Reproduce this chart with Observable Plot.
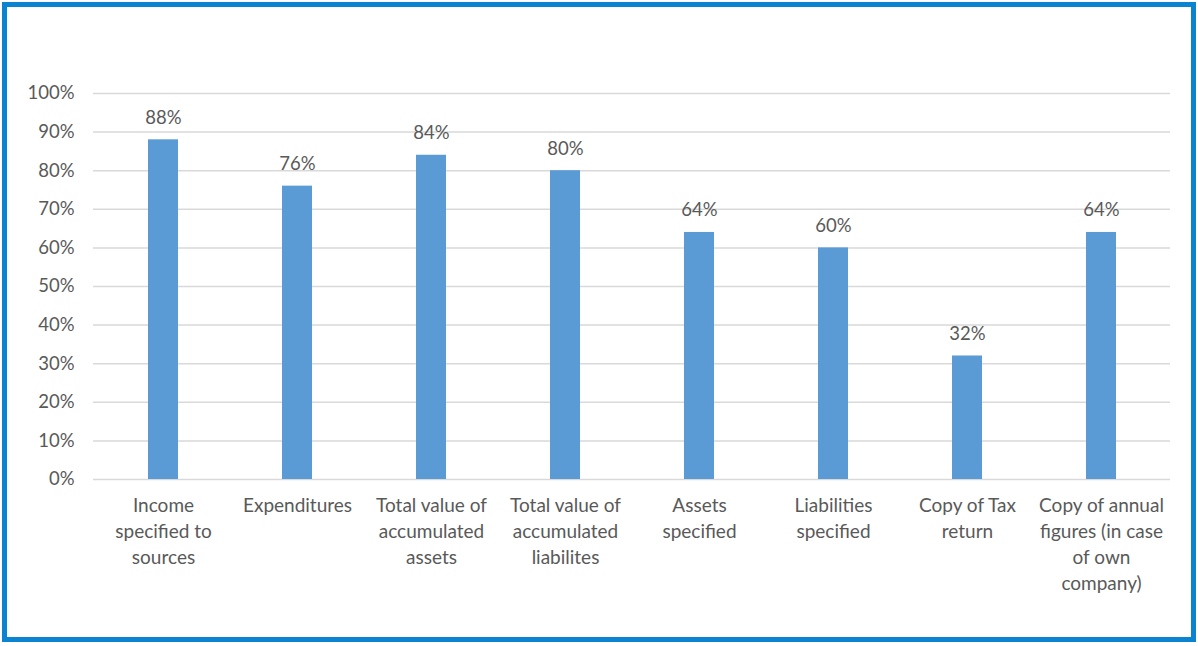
<!DOCTYPE html>
<html>
<head>
<meta charset="utf-8">
<script src="https://cdn.jsdelivr.net/npm/d3@7"></script>
<script src="https://cdn.jsdelivr.net/npm/@observablehq/plot@0.6"></script>
<style>
  html, body { margin: 0; padding: 0; background: #fff; }
  #frame {
    position: absolute; left: 2px; top: 2px;
    width: 1184px; height: 630px;
    border: 5px solid #0a84d0;
    background: #fff;
  }
  #chart { position: absolute; left: 0; top: 0; }
</style>
</head>
<body>
<div id="frame"><div id="chart"></div></div>
<script>
const categories = [
  "Income\nspecified to\nsources",
  "Expenditures",
  "Total value of\naccumulated\nassets",
  "Total value of\naccumulated\nliabilites",
  "Assets\nspecified",
  "Liabilities\nspecified",
  "Copy of Tax\nreturn",
  "Copy of annual\nfigures (in case\nof own\ncompany)"
];
const values = [88, 76, 84, 80, 64, 60, 32, 64];
const yTicks = [0, 10, 20, 30, 40, 50, 60, 70, 80, 90, 100];

const data = categories.map((c, i) => ({category: c, value: values[i]}));

const textColor = "#595959";
const font = "Lato, 'Open Sans', sans-serif";

const chart = Plot.plot({
  width: 1184,
  height: 630,
  marginLeft: 86,
  marginRight: 21,
  marginTop: 86,
  marginBottom: 158,
  style: {fontFamily: font, color: textColor, background: "#fff"},
  x: {domain: categories, paddingInner: 0.777, paddingOuter: 0.3885, label: null},
  y: {domain: [0, 100], ticks: yTicks, label: null},
  marks: [
    Plot.gridY(yTicks, {stroke: "#d9d9d9", strokeOpacity: 1, strokeWidth: 1.5}),
    Plot.barY(data, {x: "category", y: "value", fill: "#5b9bd5"}),
    Plot.text(data, {x: "category", y: "value", text: d => d.value + "%", dy: -22, fontSize: 18.5, fill: textColor}),
    Plot.axisY(yTicks, {tickSize: 0, tickPadding: 19, fontSize: 18.5, fill: textColor, tickFormat: d => d + "%", label: null}),
    Plot.axisX({tickSize: 0, tickPadding: 14, fontSize: 19, lineHeight: 1.37, fill: textColor, label: null, lineAnchor: "top"})
  ]
});
document.getElementById("chart").appendChild(chart);
</script>
</body>
</html>
